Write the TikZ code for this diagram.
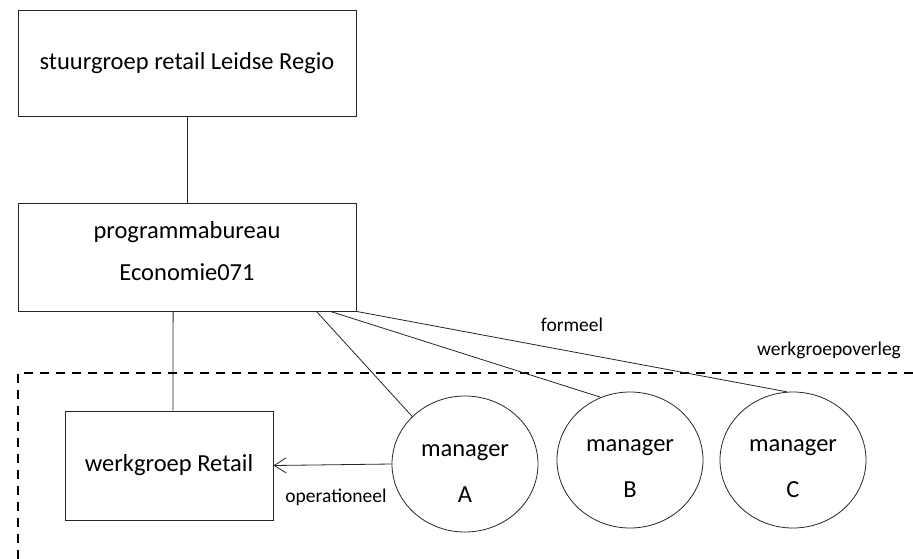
\documentclass[tikz,border=0pt]{standalone}
\usepackage{fontspec}
\setmainfont{Carlito}
\usetikzlibrary{shapes.geometric,arrows.meta,calc}
\begin{document}
\begin{tikzpicture}[x=1pt,y=-1pt,
  thin line/.style={draw=black!85,line width=0.8pt},
  boxnode/.style={thin line,rectangle,inner sep=0pt,font=\fontsize{24.5}{24}\selectfont,align=center},
  mgr/.style={thin line,ellipse,inner sep=0pt,minimum width=146pt,minimum height=136pt,font=\fontsize{24.5}{46}\selectfont,align=center},
  lbl/.style={inner sep=0pt,font=\fontsize{19.5}{20}\selectfont},
  grp/.style={draw=black,line width=2pt,dash pattern=on 9pt off 7pt}]
\useasboundingbox (0,0) rectangle (913,558);
% group boundary
\coordinate (g1) at (913,373);
\coordinate (g2) at (18,373);
\coordinate (g3) at (18,560);
\draw[grp] (g1) -- (g2) -- (g3);
% boxes
\node[boxnode,minimum width=338pt,minimum height=106pt] (sg) at (187,63) {stuurgroep retail Leidse Regio};
\node[boxnode,minimum width=338pt,minimum height=108pt,font=\fontsize{24.5}{42}\selectfont] (pb) at (187,257) {programmabureau\\Economie071\rule[-12pt]{0pt}{0pt}};
\node[boxnode,minimum width=208pt,minimum height=109pt] (wg) at (169,465.5) {werkgroep Retail};
% managers
\node[mgr] (ma) at (465,464) {\rule{0pt}{30pt}manager\\A};
\node[mgr] (mb) at (630,460) {\rule{0pt}{29pt}manager\\B};
\node[mgr] (mc) at (793,460) {\rule{0pt}{29pt}manager\\C};
% connectors
\draw[thin line] (sg.south) -- (pb.north);
\draw[thin line] ($(pb.south west)!0.459!(pb.south east)$) -- ($(wg.north west)!0.5192!(wg.north east)$);
\draw[thin line] ($(pb.south west)!0.882!(pb.south east)$) -- (ma.138);
\draw[thin line] ($(pb.south west)!0.923!(pb.south east)$) -- (mb.115);
\draw[thin line] (pb.south east) -- (mc.95);
\draw[thin line,-{Straight Barb[length=12pt,width=15pt,line width=0.8pt]}] (ma.west) -- (wg.east);
% labels
\node[lbl] (lf) at (572,325) {formeel};
\node[lbl] (lw) at (829,350) {werkgroepoverleg};
\node[lbl] (lo) at (336,497) {operationeel};
\end{tikzpicture}
\end{document}
